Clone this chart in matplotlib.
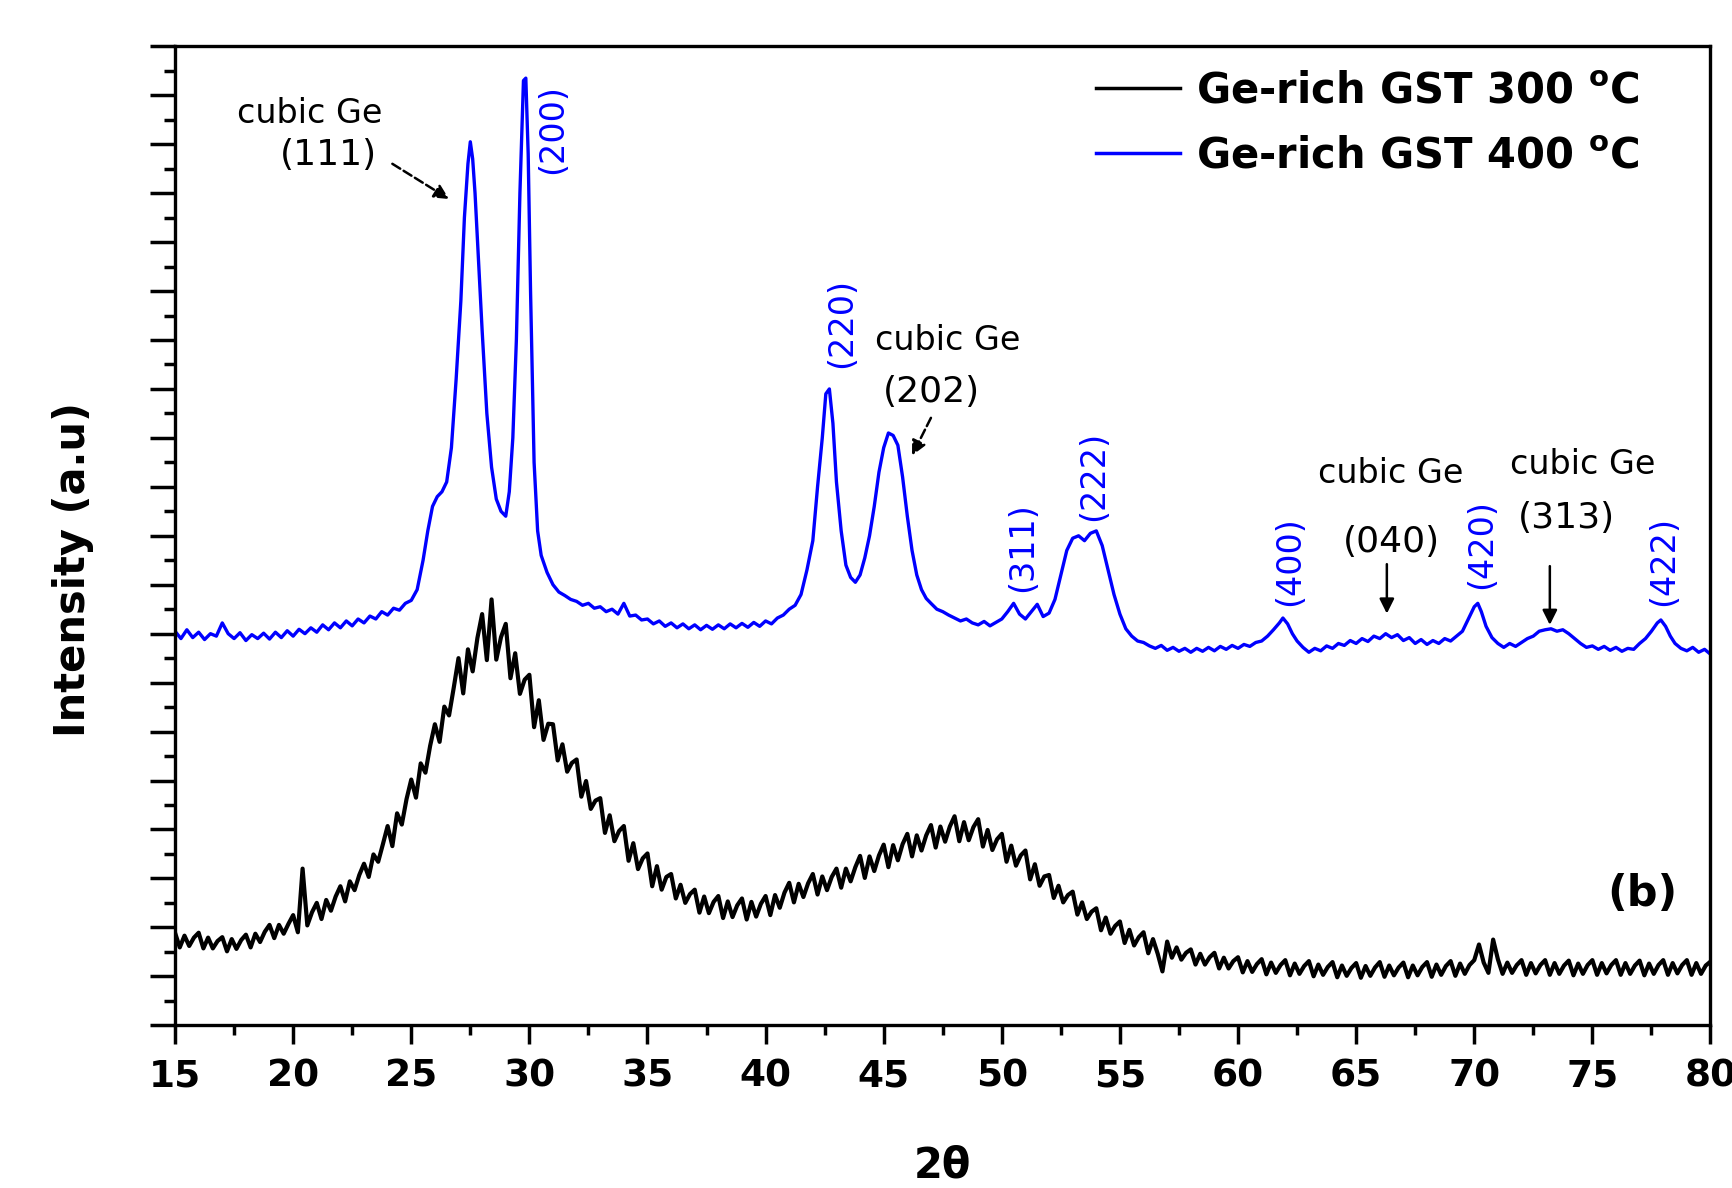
import numpy as np
import matplotlib
matplotlib.use("Agg")
import matplotlib.pyplot as plt
from matplotlib.pyplot import MultipleLocator

# Ge-rich GST annealed at 300 C (amorphous, broad humps), 0.2 deg steps from 15 to 80
two_theta_300 = np.round(np.arange(15, 80.001, 0.2), 1)
int_300 = [
    189, 159, 183, 162, 179,  189, 157, 179, 157, 172,  180, 151, 176, 156, 174,
    185, 159, 187, 170, 191,  205, 178, 205, 187, 207,  225, 190, 320, 204, 231,
    250, 217, 256, 234, 263,  284, 253, 294, 276, 307,  330, 303, 349, 334, 370,
    407, 366, 433, 410, 462,  502, 465, 535, 516, 571,  615, 579, 651, 633, 690,
    750, 678, 768, 723, 791,  840, 746, 870, 747, 793,  820, 709, 760, 677, 706,
    716, 609, 664, 583, 616,  615, 541, 574, 518, 536,  543, 467, 499, 442, 459,
    464, 393, 429, 376, 397,  407, 336, 372, 319, 341,  351, 284, 325, 277, 303,
    309, 259, 287, 250, 268,  277, 230, 263, 229, 252,  264, 219, 253, 221, 245,
    259, 216, 252, 222, 248,  264, 225, 266, 240, 271,  291, 251, 289, 262, 290,
    309, 267, 304, 276, 303,  320, 281, 320, 294, 323,  346, 301, 345, 315, 347,
    369, 323, 368, 337, 370,  391, 345, 388, 357, 388,  409, 363, 406, 375, 406,
    427, 376, 415, 378, 405,  421, 365, 399, 358, 380,  391, 334, 367, 326, 347,
    357, 298, 329, 285, 304,  307, 260, 285, 251, 266,  273, 226, 251, 217, 232,
    239, 194, 220, 187, 203,  212, 168, 195, 163, 180,  190, 147, 176, 146, 110,
    171, 138, 159, 134, 148,  155, 124, 146, 124, 139,  148, 116, 138, 116, 131,
    139, 108, 131, 109, 125,  135, 104, 128, 107, 123,  133, 102, 126, 105, 121,
    131, 100, 124, 103, 119,  129, 98, 122, 101, 117,  127, 97, 121, 101, 118,
    129, 99, 122, 102, 118,  128, 98, 122, 102, 119,  129, 99, 124, 103, 121,
    131, 101, 126, 105, 123,  133, 165, 128, 107, 175,  135, 105, 128, 107, 123,
    133, 103, 127, 106, 123,  133, 103, 127, 105, 122,  132, 102, 126, 105, 123,
    133, 103, 127, 106, 123,  133, 103, 127, 105, 122,  132, 102, 126, 105, 123,
    133, 103, 127, 106, 123,  133, 103, 127, 105, 122,  130,
]

# Ge-rich GST annealed at 400 C (crystalline peaks)
two_theta_400 = [
    15.0, 15.25, 15.5, 15.75, 16.0, 16.25, 16.5, 16.75, 17.0, 17.25, 17.5, 17.75,
    18.0, 18.25, 18.5, 18.75, 19.0, 19.25, 19.5, 19.75, 20.0, 20.25, 20.5, 20.75,
    21.0, 21.25, 21.5, 21.75, 22.0, 22.25, 22.5, 22.75, 23.0, 23.25, 23.5, 23.75,
    24.0, 24.25, 24.5, 24.75, 25.0, 25.25, 25.5, 25.7, 25.9, 26.1, 26.3, 26.5,
    26.7, 26.9, 27.1, 27.25, 27.4, 27.5, 27.6, 27.7, 27.85, 28.0, 28.2, 28.4,
    28.6, 28.8, 29.0, 29.15, 29.3, 29.45, 29.6, 29.75, 29.85, 29.95, 30.05, 30.2,
    30.35, 30.5, 30.75, 31.0, 31.25, 31.5, 31.75, 32.0, 32.25, 32.5, 32.75, 33.0,
    33.25, 33.5, 33.75, 34.0, 34.25, 34.5, 34.75, 35.0, 35.25, 35.5, 35.75, 36.0,
    36.25, 36.5, 36.75, 37.0, 37.25, 37.5, 37.75, 38.0, 38.25, 38.5, 38.75, 39.0,
    39.25, 39.5, 39.75, 40.0, 40.25, 40.5, 40.75, 41.0, 41.25, 41.5, 41.75, 42.0,
    42.2, 42.4, 42.55, 42.7, 42.85, 43.0, 43.2, 43.4, 43.6, 43.8, 44.0, 44.2,
    44.4, 44.6, 44.8, 45.0, 45.2, 45.4, 45.6, 45.8, 46.0, 46.2, 46.4, 46.6,
    46.8, 47.0, 47.25, 47.5, 47.75, 48.0, 48.25, 48.5, 48.75, 49.0, 49.25, 49.5,
    49.75, 50.0, 50.25, 50.5, 50.75, 51.0, 51.25, 51.5, 51.75, 52.0, 52.25, 52.5,
    52.75, 53.0, 53.25, 53.5, 53.75, 54.0, 54.25, 54.5, 54.75, 55.0, 55.25, 55.5,
    55.75, 56.0, 56.25, 56.5, 56.75, 57.0, 57.25, 57.5, 57.75, 58.0, 58.25, 58.5,
    58.75, 59.0, 59.25, 59.5, 59.75, 60.0, 60.25, 60.5, 60.75, 61.0, 61.25, 61.5,
    61.75, 61.9, 62.1, 62.3, 62.5, 62.75, 63.0, 63.25, 63.5, 63.75, 64.0, 64.25,
    64.5, 64.75, 65.0, 65.25, 65.5, 65.75, 66.0, 66.25, 66.5, 66.75, 67.0, 67.25,
    67.5, 67.75, 68.0, 68.25, 68.5, 68.75, 69.0, 69.25, 69.5, 69.75, 70.0, 70.15,
    70.3, 70.5, 70.75, 71.0, 71.25, 71.5, 71.75, 72.0, 72.25, 72.5, 72.75, 73.0,
    73.25, 73.5, 73.75, 74.0, 74.25, 74.5, 74.75, 75.0, 75.25, 75.5, 75.75, 76.0,
    76.25, 76.5, 76.75, 77.0, 77.25, 77.5, 77.75, 77.9, 78.1, 78.3, 78.5, 78.75,
    79.0, 79.25, 79.5, 79.75, 80.0,
]
int_400 = [
    805, 790, 808, 792, 803, 788, 800, 795, 822, 800, 790, 802,
    786, 798, 790, 801, 789, 803, 792, 806, 795, 809, 800, 812,
    803, 818, 808, 822, 812, 826, 816, 830, 822, 836, 830, 845,
    838, 852, 848, 862, 868, 890, 950, 1010, 1060, 1080, 1090, 1110,
    1180, 1320, 1480, 1650, 1760, 1805, 1770, 1700, 1560, 1420, 1250, 1140,
    1075, 1050, 1040, 1090, 1200, 1400, 1700, 1930, 1935, 1780, 1500, 1150,
    1010, 960, 925, 900, 885, 878, 870, 866, 858, 862, 852, 855,
    845, 850, 840, 862, 836, 838, 828, 830, 820, 826, 815, 822,
    812, 820, 810, 818, 808, 817, 809, 818, 810, 820, 812, 821,
    813, 823, 815, 826, 820, 832, 838, 850, 858, 880, 930, 990,
    1100, 1200, 1290, 1300, 1230, 1110, 1010, 940, 915, 905, 920, 955,
    1000, 1060, 1130, 1180, 1210, 1205, 1185, 1120, 1040, 970, 920, 890,
    872, 862, 850, 845, 838, 832, 826, 830, 822, 818, 825, 816,
    823, 830, 845, 862, 840, 830, 845, 860, 835, 842, 870, 920,
    970, 995, 1000, 990, 1005, 1010, 980, 930, 880, 840, 810, 795,
    785, 782, 775, 770, 776, 766, 772, 764, 770, 762, 770, 764,
    772, 765, 774, 768, 776, 770, 778, 774, 782, 785, 795, 808,
    822, 832, 820, 800, 785, 772, 762, 770, 765, 775, 770, 780,
    776, 786, 780, 790, 784, 795, 790, 800, 792, 798, 786, 792,
    780, 788, 778, 786, 780, 790, 785, 795, 805, 830, 855, 862,
    845, 815, 792, 780, 772, 780, 774, 782, 790, 795, 805, 808,
    810, 805, 808, 800, 790, 780, 772, 775, 768, 774, 766, 772,
    764, 770, 768, 780, 790, 805, 822, 828, 815, 795, 780, 770,
    765, 772, 762, 768, 758,
]

# peak labels of the 400 C pattern
hkl_labels = ['(200)', '(220)', '(311)', '(222)', '(400)', '(420)', '(422)']
hkl_x = [31.0, 43.2, 50.9, 53.9, 62.2, 70.3, 78.0]
hkl_y = [1831, 1435, 976, 1123, 949, 983, 949]

# cubic Ge annotations: label position, (hkl) position, arrow tail, arrow head
ge_hkl = ['(111)', '(202)', '(040)', '(313)']
ge_name_xy = [(20.7, 1862), (47.7, 1399), (66.45, 1128), (74.6, 1146)]
ge_hkl_xy = [(21.5, 1778), (47.0, 1293), (66.5, 988), (73.9, 1037)]
ge_arrow_from = [(24.2, 1760), (47.0, 1241), (66.3, 942), (73.2, 938)]
ge_arrow_to = [(26.6, 1688), (46.2, 1164), (66.3, 841), (73.2, 818)]
ge_arrow_style = ['--', '--', '-', '-']

fig = plt.figure(figsize=(17.33, 11.88), dpi=100)
ax1 = fig.add_subplot(111)
fig.subplots_adjust(left=0.101, right=0.987, top=0.961, bottom=0.137)

ax1.plot(two_theta_300, int_300, color='black', lw=3.0, label='Ge-rich GST 300 $^{\\mathbf{o}}$C')
ax1.plot(two_theta_400, int_400, color='blue', lw=2.4, label='Ge-rich GST 400 $^{\\mathbf{o}}$C')

for lab, x, y in zip(hkl_labels, hkl_x, hkl_y):
    ax1.text(x, y, lab, rotation=90, ha='center', va='center', color='blue', fontsize=24)

for hkl, p1, p2, a1, a2, ls in zip(ge_hkl, ge_name_xy, ge_hkl_xy, ge_arrow_from, ge_arrow_to, ge_arrow_style):
    ax1.text(p1[0], p1[1], 'cubic Ge', ha='center', va='center', fontsize=24)
    ax1.text(p2[0], p2[1], hkl, ha='center', va='center', fontsize=26)
    ax1.annotate('', xy=a2, xytext=a1,
                 arrowprops=dict(arrowstyle='-|>', color='black', lw=1.8, linestyle=ls,
                                 mutation_scale=22, shrinkA=0, shrinkB=0))

ax1.text(77.1, 269, '(b)', ha='center', va='center', fontsize=31, fontweight='bold')

ax1.set_xlim(15, 80)
ax1.set_ylim(0, 2000)

ax1.xaxis.set_major_locator(MultipleLocator(5))
ax1.xaxis.set_minor_locator(MultipleLocator(2.5))
ax1.yaxis.set_major_locator(MultipleLocator(100))
ax1.yaxis.set_minor_locator(MultipleLocator(50))

ax1.tick_params(axis='x', which='major', direction='out', length=14, width=2.5, pad=10, labelsize=27)
ax1.tick_params(axis='x', which='minor', direction='out', length=7, width=2.5)
ax1.tick_params(axis='y', which='major', direction='out', length=18, width=2.5, labelleft=False)
ax1.tick_params(axis='y', which='minor', direction='out', length=8, width=2.5)
for t in ax1.get_xticklabels():
    t.set_fontweight('bold')

ax1.set_xlabel('2θ', fontsize=30, fontweight='bold')
ax1.set_ylabel('Intensity (a.u)', fontsize=30, fontweight='bold')
ax1.xaxis.set_label_coords(0.5, -0.122)
ax1.yaxis.set_label_coords(-0.053, 0.466)

bwith = 2.4
for s in ['bottom', 'left', 'top', 'right']:
    ax1.spines[s].set_linewidth(bwith)

leg = ax1.legend(loc='upper left', bbox_to_anchor=(0.600, 0.976), frameon=False,
                 borderpad=0, borderaxespad=0, handlelength=2.0, handletextpad=0.4,
                 labelspacing=0.55, prop={'size': 30, 'weight': 'bold'})
for line in leg.get_lines():
    line.set_linewidth(2.5)

fig.savefig('out.png', dpi=100)
